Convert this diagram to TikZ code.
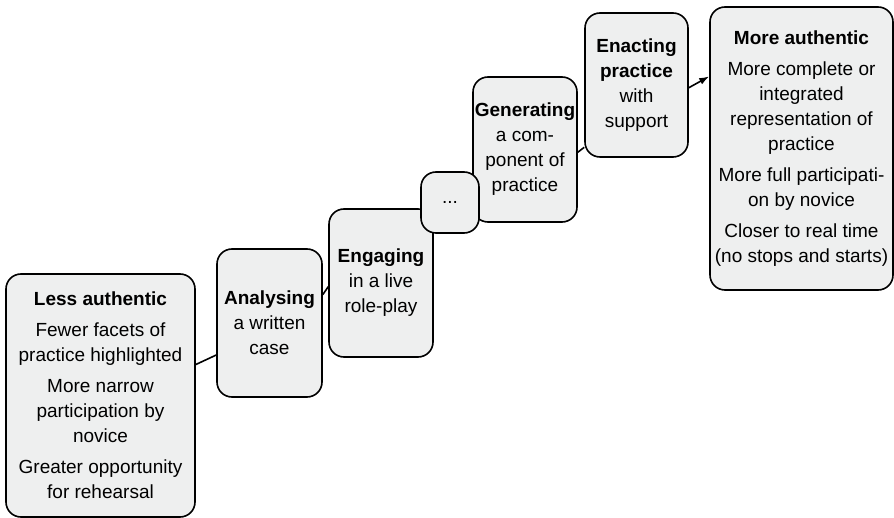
\documentclass[tikz,border=0pt]{standalone}
\usepackage{fontspec}
\setmainfont{Liberation Sans}
\usetikzlibrary{arrows.meta}
\definecolor{stagefill}{RGB}{238,239,239}

\begin{document}
\begin{tikzpicture}[x=1pt, y=-1pt,
                stage box/.style={draw=black, line width=1.6pt, fill=stagefill,
                                  rounded corners=15pt, inner sep=0pt, align=center,
                                  font=\fontsize{19}{25}\selectfont},
                stage link/.style={line width=1.6pt}]
                \useasboundingbox (0,0) rectangle (894,518);

                % Less authentic end
                \node[stage box, minimum width=189, minimum height=243] (less) at (100.5,395.5)
                    {\textbf{Less authentic}\\[6pt]
                     Fewer facets of\\practice highlighted\\[6pt]
                     More narrow\\participation by\\novice\\[6pt]
                     Greater opportunity\\for rehearsal};

                % Steps on the way up
                \node[stage box, minimum width=105, minimum height=148] (analysing) at (269.5,323)
                    {\textbf{Analysing}\\a written\\case};
                \node[stage box, minimum width=104, minimum height=148] (engaging) at (381,283)
                    {\textbf{Engaging}\\in a live\\role-play};
                \node[stage box, minimum width=104, minimum height=145] (generating) at (525,149.5)
                    {\textbf{Generating}\\a com-\\ponent of\\practice};
                \node[stage box, minimum width=58, minimum height=61] (dots) at (450,202.5) {...};
                \node[stage box, minimum width=103, minimum height=144] (enacting) at (636.5,85)
                    {\textbf{Enacting}\\\textbf{practice}\\with\\support};

                % More authentic end
                \node[stage box, minimum width=183, minimum height=283] (more) at (801.5,148.5)
                    {\textbf{More authentic}\\[6pt]
                     More complete or\\integrated\\representation of\\practice\\[6pt]
                     More full participati-\\on by novice\\[6pt]
                     Closer to real time\\(no stops and starts)};

                % Links between steps
                \draw[stage link] (less.18) -- (analysing.211);
                \draw[stage link] (analysing.28) -- (engaging.184);
                \draw[stage link] (generating.-3) -- (enacting.230);
                \draw[stage link, -{Latex[length=10pt, width=7pt]}] (enacting.-3) -- (more.142);
            \end{tikzpicture}
\end{document}
